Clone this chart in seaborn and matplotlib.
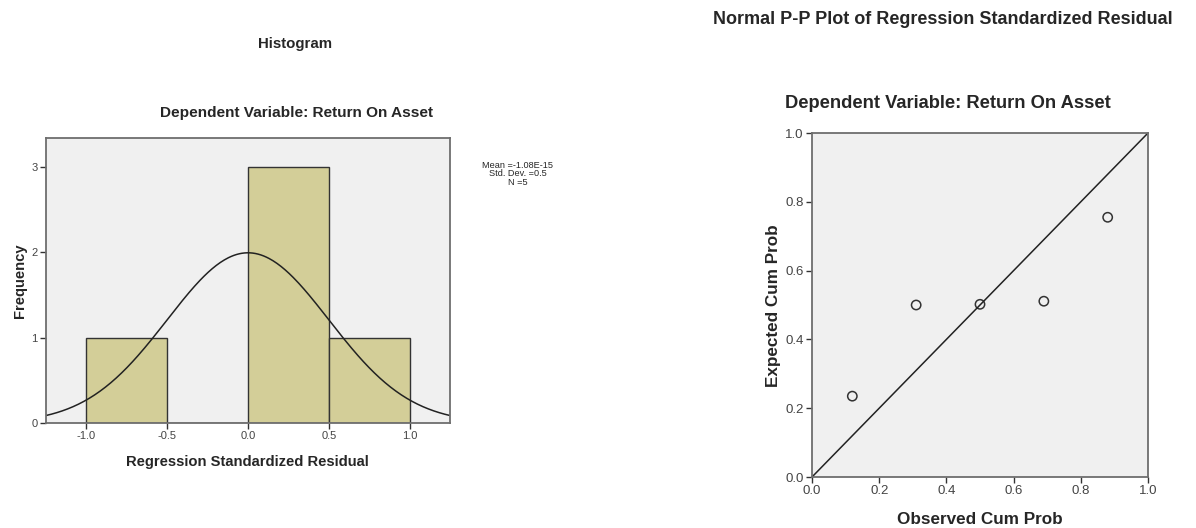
import numpy as np
import pandas as pd
import matplotlib
matplotlib.use("Agg")
import matplotlib.pyplot as plt
import seaborn as sns

# histogram of regression standardized residuals (bin counts as shown)
bin_edges = [-1.0, -0.5, 0.0, 0.5, 1.0]
bin_centers = [-0.75, -0.25, 0.25, 0.75]
bin_counts = [1, 0, 3, 1]
res_mean = -1.08e-15
res_sd = 0.5
res_n = 5

# normal P-P plot points
observed_cum = [0.12, 0.31, 0.50, 0.69, 0.88]
expected_cum = [0.235, 0.50, 0.502, 0.511, 0.755]

sns.set_theme(style="white")
plt.rcParams['font.family'] = ['Liberation Sans', 'DejaVu Sans']

W, H = 1196, 528
fig = plt.figure(figsize=(W / 100, H / 100), dpi=100)


def px_axes(left, top, right, bottom):
    return fig.add_axes([left / W, 1 - bottom / H, (right - left) / W, (bottom - top) / H])


def style_axes(ax, labelsize):
    ax.set_facecolor('#F0F0F0')
    for sp in ax.spines.values():
        sp.set_color('#6E6E6E')
        sp.set_linewidth(1.3)
    ax.tick_params(axis='both', direction='out', length=4, width=1.0,
                   bottom=True, left=True, color='#333333',
                   labelsize=labelsize, labelcolor='#444444', pad=2)


# ---- histogram ----
ax1 = px_axes(46, 138, 450, 423)
style_axes(ax1, 8)
hist_df = pd.DataFrame({'x': bin_centers, 'w': bin_counts})
sns.histplot(data=hist_df, x='x', weights='w', bins=bin_edges, ax=ax1,
             color='#D3CE98', alpha=1, edgecolor='#333333', linewidth=1.0)
xs = np.linspace(-1.25, 1.25, 300)
pdf = np.exp(-0.5 * ((xs - res_mean) / res_sd) ** 2) / (res_sd * np.sqrt(2 * np.pi))
ax1.plot(xs, pdf * res_n * 0.5, color='#222222', lw=1.1)
ax1.set_xlim(-1.25, 1.25)
ax1.set_ylim(0, 3.34)
ax1.set_xticks([-1.0, -0.5, 0.0, 0.5, 1.0])
ax1.set_xticklabels(['-1.0', '-0.5', '0.0', '0.5', '1.0'])
ax1.set_yticks([0, 1, 2, 3])
ax1.set_xlabel('Regression Standardized Residual', fontsize=10.6, fontweight='bold', va='center')
ax1.set_ylabel('Frequency', fontsize=10.6, fontweight='bold', va='center')
ax1.xaxis.set_label_coords(0.4975, -0.137)
ax1.yaxis.set_label_coords(-0.064, 0.5)

fig.text(295 / W, 1 - 44 / H, 'Histogram', ha='center', va='center',
         fontsize=10.8, fontweight='bold')
fig.text(296 / W, 1 - 113 / H, 'Dependent Variable: Return On Asset',
         ha='center', va='center', fontsize=11.1, fontweight='bold')
fig.text(518 / W, 1 - 174 / H, 'Mean =-1.08E-15\nStd. Dev. =0.5\nN =5',
         ha='center', va='center', fontsize=6.6, linespacing=0.88)

# ---- P-P plot ----
ax2 = px_axes(812, 133, 1148, 477)
style_axes(ax2, 9.5)
ax2.plot([0, 1], [0, 1], color='#222222', lw=1.1)
sns.scatterplot(x=observed_cum, y=expected_cum, ax=ax2, s=45,
                facecolor='none', edgecolor='#333333', linewidth=1.1)
ax2.set_xlim(0, 1)
ax2.set_ylim(0, 1)
ticks = [0.0, 0.2, 0.4, 0.6, 0.8, 1.0]
ax2.set_xticks(ticks)
ax2.set_yticks(ticks)
ax2.set_xticklabels([f'{t:.1f}' for t in ticks])
ax2.set_yticklabels([f'{t:.1f}' for t in ticks])
ax2.set_xlabel('Observed Cum Prob', fontsize=12.3, fontweight='bold', va='center')
ax2.set_ylabel('Expected Cum Prob', fontsize=12.3, fontweight='bold', va='center')
ax2.xaxis.set_label_coords(0.5, -0.125)
ax2.yaxis.set_label_coords(-0.116, 0.497)

fig.text(943 / W, 1 - 19 / H, 'Normal P-P Plot of Regression Standardized Residual',
         ha='center', va='center', fontsize=13, fontweight='bold')
fig.text(948 / W, 1 - 103 / H, 'Dependent Variable: Return On Asset',
         ha='center', va='center', fontsize=13.2, fontweight='bold')

fig.savefig('out.png', dpi=100, facecolor='white')
